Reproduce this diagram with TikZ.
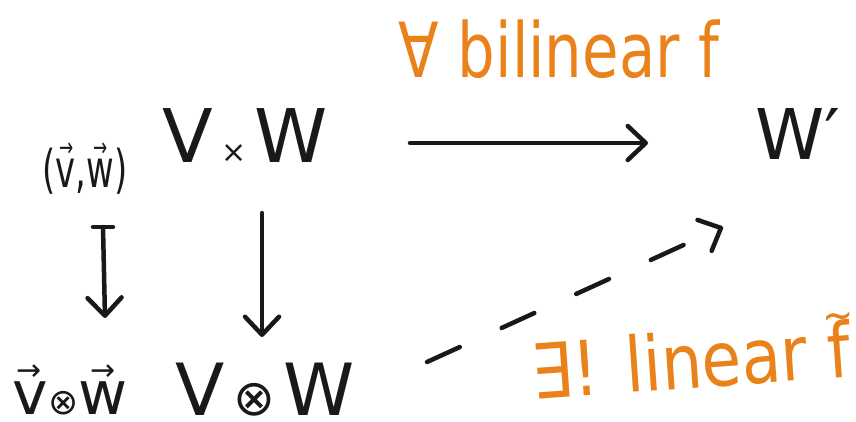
\documentclass[tikz,border=0pt]{standalone}
\usepackage{fontspec}
\usepackage{amsmath}
\usepackage{graphicx}
\setmainfont{DejaVu Sans}
\usetikzlibrary{arrows.meta,calc}
\definecolor{handorange}{RGB}{234,130,28}
\definecolor{ink}{RGB}{25,25,25}
\newcommand{\hvec}[4]{\makebox[0pt][l]{\hspace{#2}\raisebox{#3}{\fontsize{#4}{#4}\selectfont →}}#1}
\begin{document}
\begin{tikzpicture}[x=1pt,y=-1pt,
  txt/.style={inner sep=0pt, anchor=base, text=ink, text depth=0pt},
  lbl/.style={inner sep=0pt, anchor=base, text=handorange},
  pen/.style={draw=ink, line width=4.5pt, line cap=round},
  arr/.style={pen,
     -{Straight Barb[length=18pt,width=34pt,line cap=round,line join=round]}},
  dasharr/.style={arr, dash pattern=on 36pt off 46pt}]
\useasboundingbox (0,0) rectangle (856,422);

\node[txt, font=\fontsize{52}{52}\selectfont] (pair) at (85,187)
  {\scalebox{0.65}[1]{(\hvec{v}{5pt}{30pt}{26pt},\hvec{w}{10pt}{30pt}{26pt})}};
\node[txt, font=\fontsize{74}{74}\selectfont] (vxw) at (245,163)
  {V\hspace{8pt}{\fontsize{30}{30}\selectfont ×}\hspace{8pt}W};
\node[txt, font=\fontsize{70}{70}\selectfont] (wp) at (798,160) {W′};

\node[lbl, font=\fontsize{76}{76}\selectfont] (forall) at (559,78)
  {\scalebox{0.78}[1]{∀ bilinear f}};

\node[txt, font=\fontsize{60}{60}\selectfont] (vt) at (70,414)
  {\hvec{v}{4pt}{34pt}{30pt}{\fontsize{36}{36}\selectfont ⊗}\hvec{w}{12pt}{34pt}{30pt}};
\node[txt, font=\fontsize{72}{72}\selectfont] (Vt) at (265,415)
  {V{\fontsize{50}{50}\selectfont\,⊗\,}W};

\node[lbl, font=\fontsize{76}{76}\selectfont, rotate=4] (exists) at (693,388)
  {\scalebox{0.85}[1]{∃! linear \makebox[0pt][l]{\hspace{-4pt}\raisebox{0.62em}{\fontsize{44}{44}\selectfont\textasciitilde}}f}};

% horizontal arrow V x W -> W'
\draw[arr] ($(vxw.base)+(165,-20)$) -- ($(wp.base)+(-150,-17)$);
% maps-to arrow
\draw[arr] ($(pair.base)+(18,40)$) -- ($(vt.base)+(35,-96)$);
\draw[pen] ($(pair.base)+(8,40)$) -- ($(pair.base)+(28,40)$);
% vertical arrow V x W -> V (x) W
\draw[arr] ($(vxw.base)+(17,50)$) -- ($(Vt.base)+(-3,-78)$);
% dashed arrow V (x) W -> W'
\draw[dasharr] ($(Vt.base)+(162,-53)$) -- ($(wp.base)+(-75,67)$);
\end{tikzpicture}
\end{document}
